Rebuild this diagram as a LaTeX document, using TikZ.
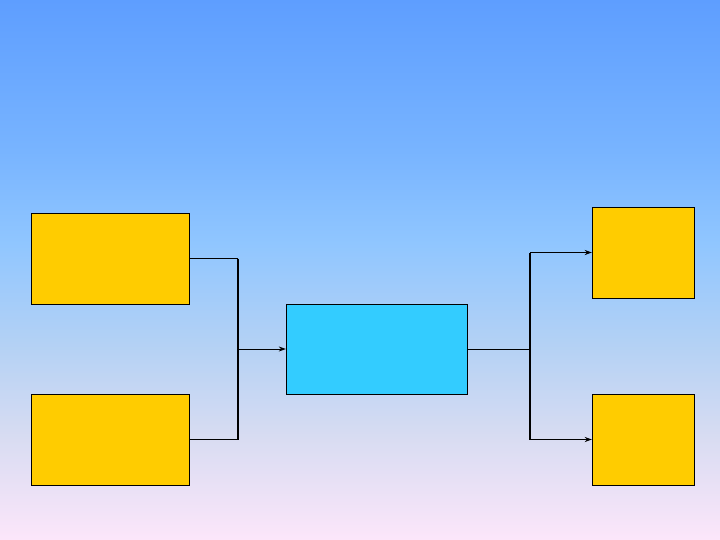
\documentclass[tikz,border=0pt]{standalone}
\usepackage{xcolor}
\usetikzlibrary{arrows.meta, positioning}
\definecolor{skytop}{HTML}{5E9EFF}
\definecolor{skyhigh}{HTML}{78B4FF}
\definecolor{skymid}{HTML}{90C6FF}
\definecolor{skylow}{HTML}{B6D2F4}
\definecolor{skyhaze}{HTML}{D8DCF2}
\definecolor{skybot}{HTML}{FCE6FA}
\definecolor{boxyellow}{HTML}{FFCC00}
\definecolor{boxcyan}{HTML}{33CCFF}
\pgfdeclareverticalshading{sky}{100bp}{color(0bp)=(skybot); color(25bp)=(skybot);
  color(34.5bp)=(skyhaze); color(42.5bp)=(skylow); color(52.5bp)=(skymid);
  color(61bp)=(skyhigh); color(75bp)=(skytop); color(100bp)=(skytop)}
\tikzset{
  inbox/.style={draw=black, fill=boxyellow, minimum width=158pt, minimum height=91pt, inner sep=0pt},
  outbox/.style={draw=black, fill=boxyellow, minimum width=102pt, minimum height=91pt, inner sep=0pt},
  midbox/.style={draw=black, fill=boxcyan, minimum width=181pt, minimum height=90pt, inner sep=0pt},
  link/.style={line width=0.8pt},
  trunk/.style={line width=1.8pt},
}
\begin{document}
\begin{tikzpicture}[x=1pt,y=-1pt,>={Stealth[length=7pt,width=5pt]}]
\shade[shading=sky] (0,0) rectangle (720,540);
\useasboundingbox (0,0) rectangle (720,540);
\node[inbox] (in1) at (110,258.5) {};
\node[inbox] (in2) at (110,439.5) {};
\node[midbox] (proc) at (376.5,349) {};
\node[outbox] (out1) at (643,252.5) {};
\node[outbox] (out2) at (643,439.5) {};
\coordinate (ja) at (238,258.5);
\coordinate (jb) at (238,439.5);
\coordinate (jm) at (238,349);
\coordinate (ka) at (530,252.5);
\coordinate (kb) at (530,439.5);
\coordinate (km) at (530,349);
\draw[link] (in1.east) -- (ja);
\draw[trunk] (in2.east) -- (jb);
\draw[trunk] (ja) -- (jb);
\draw[link,->] (jm) -- (proc.west);
\draw[link] (proc.east) -- (km);
\draw[trunk] (ka) -- (kb);
\draw[link,line width=1.3pt,->] (ka) -- (out1.west);
\draw[link,line width=1.3pt,->] (kb) -- (out2.west);
\end{tikzpicture}
\end{document}
